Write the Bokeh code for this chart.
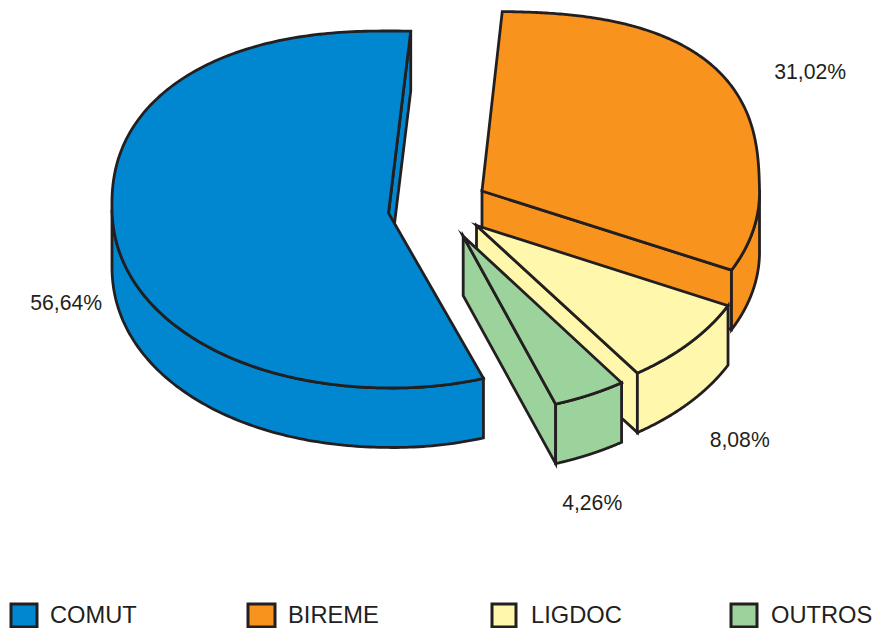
import numpy as np
from bokeh.embed import file_html
from bokeh.models import Range1d
from bokeh.plotting import figure
from bokeh.resources import INLINE

# data
categories = ["COMUT", "BIREME", "LIGDOC", "OUTROS"]
shares = [56.64, 31.02, 8.08, 4.26]
share_labels = ["56,64%", "31,02%", "8,08%", "4,26%"]

# styles and layout (page pixels)
fills = ["#0087d0", "#f8931d", "#fff7ab", "#9cd29b"]
INK = "#231f20"
FONT = "Liberation Sans"
START_ANGLE = 85.0
RX, RY, DEPTH = 278.0, 178.5, 59.5
SHEAR = 0.02
# roundness of the hand-drawn rim, by quadrant (upper right, upper left, lower left, lower right)
ROUNDNESS = [2.7, 2.25, 2.1, 2.0]
apexes = [(388, 212.5), (481.5, 190.5), (476, 225), (462.7, 235.7)]
centers = [(389.5, 209), (481, 189.5), (477.5, 225), (461.7, 234.7)]
label_pos = [(65.7, 301.5), (809.7, 70.5), (739.2, 438.5), (591.7, 501.5)]
swatch_x = [(10.5, 36.5), (247.5, 274.5), (491.5, 515.5), (730.5, 756.5)]
legend_text_x = [49.5, 287.5, 530.5, 770.5]
LEGEND_Y = 615

p = figure(width=877, height=628, output_backend="svg", toolbar_location=None,
           x_range=Range1d(0, 877), y_range=Range1d(628, 0),
           min_border=0, outline_line_color=None, background_fill_color="white")
p.xaxis.visible = False
p.yaxis.visible = False
p.grid.visible = False


def rim(center, t, drop=0.0):
    deg = np.mod(np.asarray(t, dtype=float), 360.0)
    n = np.asarray(ROUNDNESS)[np.minimum((deg // 90).astype(int), 3)]
    r = np.radians(deg)
    c, s = np.cos(r), np.sin(r)
    scale = (np.abs(c) ** n + np.abs(s) ** n) ** (-1.0 / n)
    dy = -RY * s * scale
    return center[0] + RX * c * scale + SHEAR * dy, center[1] + dy + drop


def face(xs, ys, color):
    p.patch(xs, ys, fill_color=color, line_color=INK, line_width=2.8, line_join="miter")


# sectors run clockwise from the shared start angle; COMUT closes the circle
draw_order = [1, 2, 3, 0]
spans = {}
theta = START_ANGLE
for i in draw_order:
    spans[i] = (theta - shares[i] * 3.6, theta)
    theta -= shares[i] * 3.6

for i in [0, 1, 2, 3]:
    lo, hi = spans[i]
    a = apexes[i]
    m = centers[i]
    c = fills[i]
    # cut face on the clockwise side
    rx, ry = rim(m, lo)
    face([a[0], rx, rx, a[0]], [a[1], ry, ry + DEPTH, a[1] + DEPTH], c)
    # outer wall (lower half of the ellipse only)
    w0, w1 = max(lo, -180.0), min(hi, 0.0)
    ts = np.linspace(w0, w1, 120)
    x1, y1 = rim(m, ts)
    x2, y2 = rim(m, ts[::-1], DEPTH)
    face(np.r_[x1, x2], np.r_[y1, y2], c)
    # top
    ts = np.linspace(lo, hi, 240)
    x1, y1 = rim(m, ts)
    face(np.r_[a[0], x1], np.r_[a[1], y1], c)

# share labels
p.text([q[0] for q in label_pos], [q[1] for q in label_pos], text=share_labels,
       text_font={"value": FONT}, text_font_size="21.2px", text_color=INK,
       text_align="center", text_baseline="middle")

# legend
p.quad(left=[s[0] for s in swatch_x], right=[s[1] for s in swatch_x],
       top=[LEGEND_Y - 11.5] * 4, bottom=[LEGEND_Y + 11.5] * 4,
       fill_color=fills, line_color=INK, line_width=3, line_join="miter")
p.text(legend_text_x, [LEGEND_Y - 0.5] * 4, text=categories,
       text_font={"value": FONT}, text_font_size="23.7px", text_color=INK,
       text_align="left", text_baseline="middle")

open("out.html", "w").write(file_html(p, INLINE))
